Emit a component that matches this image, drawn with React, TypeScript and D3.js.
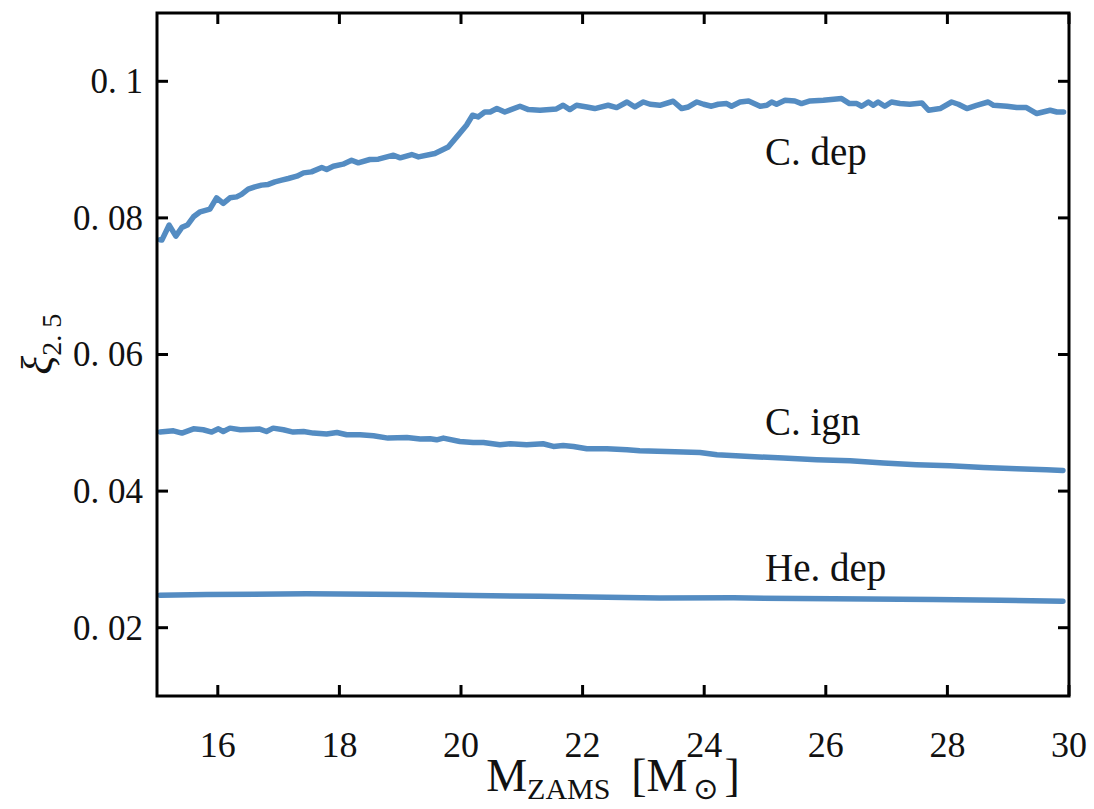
import React, { useEffect, useRef } from "react";
import * as d3 from "d3";

// ---- Data ----
const cdepMass = [15.05, 15.08, 15.2, 15.31, 15.41, 15.5, 15.6, 15.71, 15.87, 15.98, 16.09, 16.2, 16.31, 16.39, 16.5, 16.61, 16.72, 16.83, 16.94, 17.05, 17.16, 17.3, 17.41, 17.54, 17.71, 17.79, 17.9, 18.06, 18.2, 18.31, 18.5, 18.64, 18.89, 19.0, 19.19, 19.3, 19.57, 19.79, 19.93, 20.09, 20.19, 20.28, 20.39, 20.48, 20.59, 20.72, 20.97, 21.11, 21.3, 21.57, 21.68, 21.79, 21.9, 22.07, 22.2, 22.42, 22.56, 22.73, 22.86, 23.0, 23.11, 23.27, 23.49, 23.63, 23.74, 23.88, 23.99, 24.12, 24.23, 24.37, 24.45, 24.59, 24.73, 24.92, 25.03, 25.11, 25.19, 25.33, 25.49, 25.6, 25.74, 25.96, 26.26, 26.39, 26.51, 26.59, 26.7, 26.78, 26.86, 26.97, 27.08, 27.22, 27.38, 27.58, 27.69, 27.88, 28.07, 28.18, 28.32, 28.48, 28.67, 28.76, 28.98, 29.14, 29.3, 29.47, 29.69, 29.8, 29.91];
const cdepXi = [0.0768, 0.07675, 0.07895, 0.07734, 0.07861, 0.07895, 0.08016, 0.08089, 0.08129, 0.08294, 0.08212, 0.08294, 0.08308, 0.08344, 0.08421, 0.08455, 0.0848, 0.0849, 0.08528, 0.08553, 0.08577, 0.08611, 0.08659, 0.08674, 0.08738, 0.08709, 0.08757, 0.08787, 0.08845, 0.08806, 0.08855, 0.0886, 0.08918, 0.08879, 0.08928, 0.08893, 0.08943, 0.09039, 0.09186, 0.09357, 0.09503, 0.09478, 0.09551, 0.09551, 0.09601, 0.09551, 0.09635, 0.09586, 0.09576, 0.09595, 0.09649, 0.09586, 0.09649, 0.09624, 0.09601, 0.09649, 0.09615, 0.09697, 0.09624, 0.09697, 0.09664, 0.09649, 0.09708, 0.09601, 0.09624, 0.09697, 0.09664, 0.09635, 0.09664, 0.09674, 0.09635, 0.09697, 0.09712, 0.09635, 0.09649, 0.09697, 0.09664, 0.09722, 0.09712, 0.09674, 0.09712, 0.09722, 0.09747, 0.09674, 0.09674, 0.09635, 0.09697, 0.09649, 0.09697, 0.09635, 0.09697, 0.09674, 0.09664, 0.09683, 0.09576, 0.09601, 0.09697, 0.09664, 0.09601, 0.09649, 0.09697, 0.09649, 0.09635, 0.09615, 0.09615, 0.09528, 0.09576, 0.09551, 0.09551];

const cignMass = [15.05, 15.27, 15.41, 15.6, 15.76, 15.9, 16.01, 16.09, 16.2, 16.37, 16.69, 16.8, 16.91, 17.08, 17.24, 17.41, 17.57, 17.79, 17.96, 18.12, 18.34, 18.56, 18.8, 19.11, 19.33, 19.49, 19.6, 19.71, 19.98, 20.2, 20.37, 20.64, 20.81, 21.08, 21.35, 21.52, 21.68, 21.85, 22.07, 22.4, 22.73, 22.94, 23.38, 23.93, 24.21, 24.75, 25.3, 25.85, 26.4, 26.95, 27.49, 28.04, 28.59, 29.14, 29.63, 29.9];
const cignXi = [0.04864, 0.04883, 0.04849, 0.04912, 0.04898, 0.04864, 0.04912, 0.04873, 0.04922, 0.04898, 0.04908, 0.04873, 0.04922, 0.04898, 0.04864, 0.04873, 0.04849, 0.04835, 0.04858, 0.04825, 0.04825, 0.0481, 0.04776, 0.04785, 0.04762, 0.04766, 0.04751, 0.04776, 0.04727, 0.04712, 0.04712, 0.04678, 0.04693, 0.04678, 0.04693, 0.04654, 0.04668, 0.04654, 0.0462, 0.0462, 0.04605, 0.04591, 0.0458, 0.04566, 0.04532, 0.04507, 0.04484, 0.04459, 0.04444, 0.04411, 0.04386, 0.04371, 0.04346, 0.04327, 0.04313, 0.04303];

const hedepMass = [15.05, 15.82, 17.46, 19.11, 20.2, 21.3, 22.4, 23.27, 24.48, 26.12, 27.77, 28.87, 29.9];
const hedepXi = [0.02475, 0.02485, 0.02496, 0.02485, 0.02471, 0.02461, 0.02446, 0.02435, 0.02437, 0.02423, 0.02412, 0.02402, 0.02387];

const xTicks = [16, 18, 20, 22, 24, 26, 28, 30];
const yTicks = [0.02, 0.04, 0.06, 0.08, 0.1];
const yTickLabels = ["0. 02", "0. 04", "0. 06", "0. 08", "0. 1"];

const labelTexts = ["C. dep", "C. ign", "He. dep"];
const labelMass = [25, 25, 25];
const labelXi = [0.0877, 0.0482, 0.0269];

// ---- Layout ----
const W = 1094;
const H = 809;
const M = { left: 157, right: 1069, top: 13, bottom: 696 };
const LINE_COLOR = "#548cc2";
const FONT = "'Liberation Serif', 'DejaVu Serif', serif";

export default function App() {
  const ref = useRef<SVGSVGElement | null>(null);

  useEffect(() => {
    const svg = d3.select(ref.current);
    svg.selectAll("*").remove();

    const x = d3.scaleLinear().domain([15, 30]).range([M.left, M.right]);
    const y = d3.scaleLinear().domain([0.01, 0.11]).range([M.bottom, M.top]);

    svg.append("rect").attr("width", W).attr("height", H).attr("fill", "#fff");

    svg
      .append("defs")
      .append("clipPath")
      .attr("id", "plotclip")
      .append("rect")
      .attr("x", M.left)
      .attr("y", M.top)
      .attr("width", M.right - M.left)
      .attr("height", M.bottom - M.top);

    const line = d3
      .line<[number, number]>()
      .x((d) => x(d[0]))
      .y((d) => y(d[1]));

    const series: [number[], number[]][] = [
      [cdepMass, cdepXi],
      [cignMass, cignXi],
      [hedepMass, hedepXi],
    ];
    const g = svg.append("g").attr("clip-path", "url(#plotclip)");
    series.forEach(([ms, xs]) => {
      const pts = ms.map((m, i) => [m, xs[i]] as [number, number]);
      g.append("path")
        .attr("d", line(pts) as string)
        .attr("fill", "none")
        .attr("stroke", LINE_COLOR)
        .attr("stroke-width", 5.5)
        .attr("stroke-linejoin", "round")
        .attr("stroke-linecap", "round");
    });

    // Labels
    labelTexts.forEach((t, i) => {
      svg
        .append("text")
        .attr("x", x(labelMass[i]))
        .attr("y", y(labelXi[i]))
        .attr("font-family", FONT)
        .attr("font-size", 39)
        .attr("fill", "#111")
        .text(t);
    });

    // Ticks (inward, all sides)
    const tickLen = 11;
    const tg = svg.append("g").attr("stroke", "#000").attr("stroke-width", 3);
    xTicks.forEach((t) => {
      tg.append("line").attr("x1", x(t)).attr("x2", x(t)).attr("y1", M.bottom).attr("y2", M.bottom - tickLen);
      tg.append("line").attr("x1", x(t)).attr("x2", x(t)).attr("y1", M.top).attr("y2", M.top + tickLen);
    });
    yTicks.forEach((t) => {
      tg.append("line").attr("x1", M.left).attr("x2", M.left + tickLen).attr("y1", y(t)).attr("y2", y(t));
      tg.append("line").attr("x1", M.right).attr("x2", M.right - tickLen).attr("y1", y(t)).attr("y2", y(t));
    });

    // Frame
    svg
      .append("rect")
      .attr("x", M.left)
      .attr("y", M.top)
      .attr("width", M.right - M.left)
      .attr("height", M.bottom - M.top)
      .attr("fill", "none")
      .attr("stroke", "#000")
      .attr("stroke-width", 3);

    // Tick labels
    xTicks.forEach((t) => {
      svg
        .append("text")
        .attr("x", x(t))
        .attr("y", 757)
        .attr("text-anchor", "middle")
        .attr("font-family", FONT)
        .attr("font-size", 36)
        .attr("fill", "#111")
        .text(String(t));
    });
    yTicks.forEach((t, i) => {
      svg
        .append("text")
        .attr("x", 143)
        .attr("y", y(t))
        .attr("dy", "0.34em")
        .attr("text-anchor", "end")
        .attr("font-family", FONT)
        .attr("font-size", 35)
        .attr("fill", "#111")
        .text(yTickLabels[i]);
    });

    // X axis title
    const xt = svg
      .append("text")
      .attr("x", (M.left + M.right) / 2)
      .attr("y", 791)
      .attr("text-anchor", "middle")
      .attr("font-family", FONT)
      .attr("font-size", 46)
      .attr("fill", "#111");
    xt.append("tspan").text("M");
    xt.append("tspan").attr("font-size", 30).attr("dy", 8).text("ZAMS");
    xt.append("tspan").attr("dy", -8).text("\u2009 [M");
    xt.append("tspan").attr("font-size", 30).attr("dy", 8).attr("font-family", "'DejaVu Sans', sans-serif").text("\u2009\u2299\u2009");
    xt.append("tspan").attr("dy", -8).text("]");

    // Y axis title
    const yt = svg
      .append("text")
      .attr("transform", `translate(52, ${y(0.0615)}) rotate(-90)`)
      .attr("text-anchor", "middle")
      .attr("font-family", FONT)
      .attr("font-size", 44)
      .attr("font-style", "italic")
      .attr("fill", "#111");
    yt.append("tspan").text("\u03be");
    yt.append("tspan").attr("font-size", 28).attr("font-style", "normal").attr("dy", 9).text("2. 5");
  }, []);

  return (
    <svg
      ref={ref}
      width={W}
      height={H}
      style={{ position: "absolute", left: 0, top: 0, display: "block" }}
    />
  );
}
